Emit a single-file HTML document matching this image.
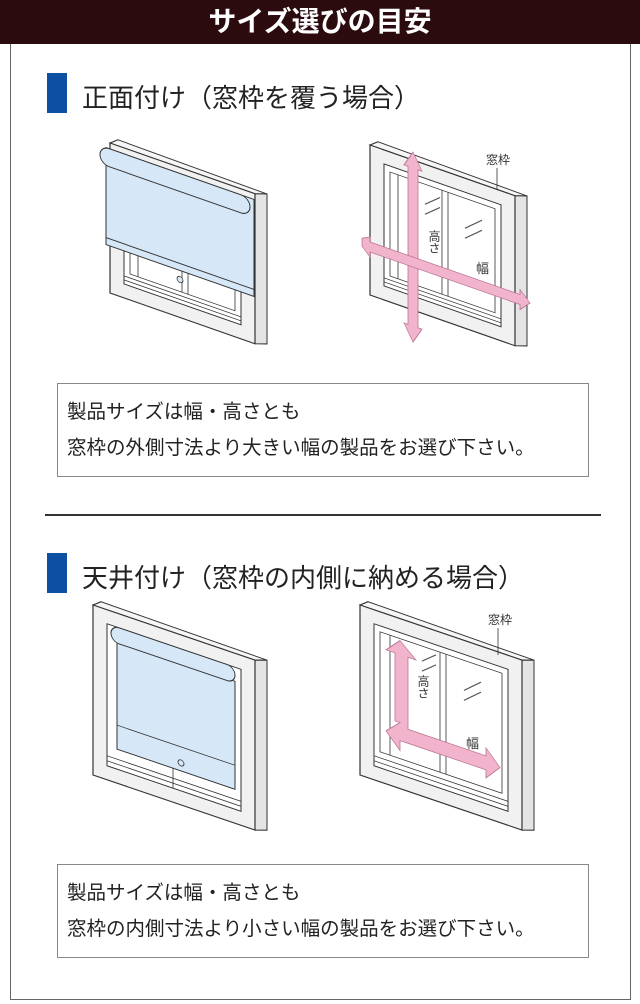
<!DOCTYPE html>
<html><head><meta charset="utf-8"><style>
body{margin:0;width:640px;height:1004px;background:#fff;font-family:"Liberation Sans","Noto Sans CJK JP",sans-serif;position:relative;overflow:hidden}
.hdr{position:absolute;left:0;top:0;width:640px;height:44px;background:#2b0b0e;color:#fff;font-size:28px;font-weight:bold;text-align:center;line-height:44px}
.outer{position:absolute;left:10px;top:44px;width:619px;height:955px;border:1px solid #666;border-top:none}
.mark{position:absolute;left:47px;width:20px;height:40px;background:#0d4fa3}
.ttl{position:absolute;left:82px;font-size:26px;color:#222;white-space:nowrap}
.box{position:absolute;left:57px;width:532px;height:94px;border:1px solid #888;font-size:19.5px;color:#222;line-height:36px;padding:10px 0 0 9px;box-sizing:border-box}
.div{position:absolute;left:45px;top:514px;width:556px;height:2px;background:#333}
svg{position:absolute;left:0;top:0}
</style></head><body>
<div class="hdr">サイズ選びの目安</div>
<div class="outer"></div>
<div class="mark" style="top:73px"></div>
<div class="ttl" style="top:78px">正面付け（窓枠を覆う場合）</div>
<div class="box" style="top:383px">製品サイズは幅・高さとも<br>窓枠の外側寸法より大きい幅の製品をお選び下さい。</div>
<div class="div"></div>
<div class="mark" style="top:553px"></div>
<div class="ttl" style="top:558px">天井付け（窓枠の内側に納める場合）</div>
<div class="box" style="top:864px">製品サイズは幅・高さとも<br>窓枠の内側寸法より小さい幅の製品をお選び下さい。</div>
<svg width="640" height="1004" viewBox="0 0 640 1004">
<defs>
<g id="win">
  <polygon points="0,0 8,-6 157,-4 145,0" fill="#f6f6f6" stroke="#333" stroke-width="1"/>
  <polygon points="145,0 157,-4 157,146 145,150" fill="#e4e4e4" stroke="#333" stroke-width="1"/>
  <rect x="0" y="0" width="145" height="150" fill="#f1f1f1" stroke="#333" stroke-width="1.2"/>
  <rect x="14" y="14" width="117" height="122" fill="#fff" stroke="#333" stroke-width="1"/>
  <rect x="20" y="20" width="105" height="104" fill="#fff" stroke="#333" stroke-width="0.8"/>
  <line x1="72" y1="20" x2="72" y2="124" stroke="#333" stroke-width="0.8"/>
  <line x1="78" y1="20" x2="78" y2="124" stroke="#333" stroke-width="0.8"/>
  <line x1="14" y1="128" x2="131" y2="128" stroke="#333" stroke-width="0.8"/>
  <line x1="14" y1="132" x2="131" y2="132" stroke="#333" stroke-width="0.8"/>
  <line x1="28" y1="20" x2="28" y2="124" stroke="#333" stroke-width="0.8"/>
</g>
<g id="win2">
  <polygon points="0,0 8,-6 174,-4 162,0" fill="#f6f6f6" stroke="#333" stroke-width="1"/>
  <polygon points="162,0 174,-4 174,166 162,170" fill="#e4e4e4" stroke="#333" stroke-width="1"/>
  <rect x="0" y="0" width="162" height="170" fill="#f1f1f1" stroke="#333" stroke-width="1.2"/>
  <rect x="14" y="14" width="134" height="142" fill="#fff" stroke="#333"/>
</g>
</defs>
<!-- window 1 -->
<g transform="matrix(1,0.35,0,1,110,143)">
  <use href="#win"/>
  <rect x="-4" y="6" width="148" height="96" fill="#d6e7f7" stroke="#333" stroke-width="1"/>
  <rect x="-4" y="96" width="148" height="7" fill="#d6e7f7" stroke="#333" stroke-width="1"/>
  <rect x="-10" y="6" width="150" height="18" rx="9" fill="#d6e7f7" stroke="#333" stroke-width="1"/>
  <circle cx="70" cy="112" r="3" fill="#d6e7f7" stroke="#333" stroke-width="0.8"/>
</g>
<!-- window 2 -->
<g transform="matrix(1,0.35,0,1,370,145)">
  <use href="#win"/>
  <line x1="55" y1="40" x2="70" y2="28" stroke="#555"/><line x1="55" y1="50" x2="70" y2="38" stroke="#555"/>
  <line x1="95" y1="50" x2="112" y2="36" stroke="#555"/><line x1="95" y1="60" x2="112" y2="46" stroke="#555"/>
  <polygon points="38,8 34,8 43,-8 52,8 48,8 48,166 52,166 43,182 34,166 38,166" fill="#f2b3cd" stroke="#b97592" stroke-width="0.8"/>
  <polygon points="-8,100 -8,96 0,92 0,97 150,97 150,92 160,102 150,112 150,107 0,107 0,112 -8,104" fill="#f2b3cd" stroke="#b97592" stroke-width="0.8"/>
</g>
<text x="434" y="230" font-size="12" fill="#333" style="writing-mode:vertical-rl">高さ</text>
<text x="476" y="273" font-size="13" fill="#333">幅</text>
<text x="486" y="164" font-size="12" fill="#333">窓枠</text>
<line x1="497" y1="168" x2="497" y2="190" stroke="#333" stroke-width="0.8"/>
<!-- window 3 -->
<g transform="matrix(1,0.34,0,1,93,605)">
  <use href="#win2"/>
  <line x1="80" y1="120" x2="80" y2="156" stroke="#333" stroke-width="0.8"/>
  <line x1="14" y1="146" x2="148" y2="146" stroke="#333" stroke-width="0.8"/>
  <line x1="14" y1="151" x2="148" y2="151" stroke="#333" stroke-width="0.8"/>
  <rect x="24" y="28" width="118" height="108" fill="#d6e7f7" stroke="#333"/>
  <rect x="18" y="14" width="124" height="16" rx="8" fill="#d6e7f7" stroke="#333"/>
  <line x1="24" y1="112" x2="142" y2="112" stroke="#333" stroke-width="0.8"/>
  <circle cx="88" cy="128" r="3" fill="#d6e7f7" stroke="#333" stroke-width="0.8"/>
</g>
<!-- window 4 -->
<g transform="matrix(1,0.34,0,1,360,605)">
  <use href="#win2"/>
  <rect x="20" y="20" width="122" height="120" fill="#fff" stroke="#333" stroke-width="0.8"/>
  <line x1="80" y1="20" x2="80" y2="140" stroke="#333" stroke-width="0.8"/>
  <line x1="86" y1="20" x2="86" y2="140" stroke="#333" stroke-width="0.8"/>
  <line x1="30" y1="20" x2="30" y2="140" stroke="#333" stroke-width="0.8"/>
  <line x1="14" y1="146" x2="148" y2="146" stroke="#333" stroke-width="0.8"/>
  <line x1="14" y1="151" x2="148" y2="151" stroke="#333" stroke-width="0.8"/>
  <line x1="62" y1="35" x2="76" y2="24" stroke="#555"/><line x1="62" y1="45" x2="76" y2="34" stroke="#555"/>
  <line x1="104" y1="50" x2="121" y2="36" stroke="#555"/><line x1="104" y1="60" x2="121" y2="46" stroke="#555"/>
  <polygon points="35,36 26,36 40,22 56,36 48,36 48,108 126,108 126,100 140,115 126,130 126,122 48,122 40,122 40,132 26,117 40,104 35,104" fill="#f2b3cd" stroke="#b97592" stroke-width="0.8"/>
</g>
<text x="423" y="675" font-size="12" fill="#333" style="writing-mode:vertical-rl">高さ</text>
<text x="466" y="748" font-size="13" fill="#333">幅</text>
<text x="488" y="624" font-size="12" fill="#333">窓枠</text>
<line x1="498" y1="628" x2="498" y2="655" stroke="#333" stroke-width="0.8"/>
</svg>
</body></html>
